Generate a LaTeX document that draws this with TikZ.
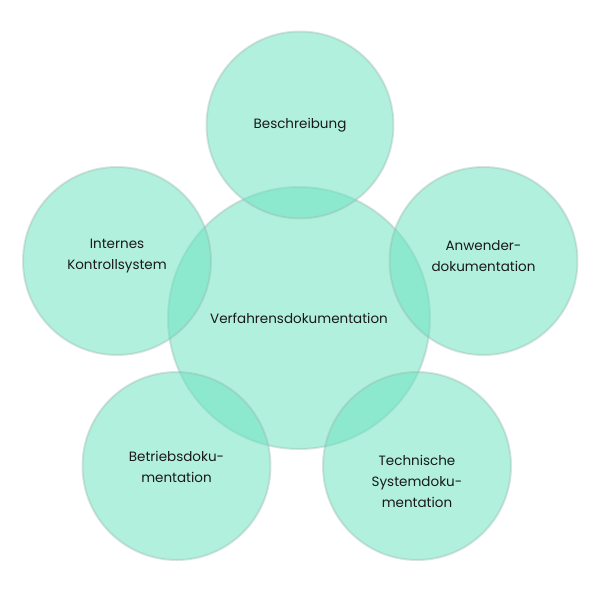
\documentclass[tikz,border=0pt]{standalone}
\usepackage{fontspec}
\setmainfont{Poppins}
\definecolor{mint}{RGB}{103,227,191}
\definecolor{rim}{RGB}{150,180,170}
\begin{document}
\begin{tikzpicture}[x=1pt,y=-1pt,
  bubble/.style={circle, fill=mint, fill opacity=0.5, draw=rim, draw opacity=0.35, line width=2pt, inner sep=0pt},
  lbl/.style={font=\fontsize{13.5}{21}\selectfont, text=black!90, align=center}]
\useasboundingbox[fill=white] (0,0) rectangle (600,600);
\node[bubble, minimum size=262pt] (c) at (299,318) {};
\node[bubble, minimum size=187pt] (t) at (300,125) {};
\node[bubble, minimum size=188pt] (l) at (117,261) {};
\node[bubble, minimum size=188pt] (r) at (483.5,261) {};
\node[bubble, minimum size=188pt] (bl) at (176.5,466) {};
\node[bubble, minimum size=188pt] (br) at (417,466) {};
\node[lbl] (tc) at (c.center) {Verfahrensdokumentation};
\node[lbl] (tt) at (t.center) {Beschreibung};
\node[lbl] (tl) at ([yshift=5]l.center) {Internes\\Kontrollsystem};
\node[lbl] (tr) at ([yshift=5]r.center) {Anwender-\\dokumentation};
\node[lbl] (tbl) at ([yshift=-1]bl.center) {Betriebsdoku-\\mentation};
\node[lbl] (tbr) at ([yshift=-15]br.center) {Technische\\Systemdoku-\\mentation};
\end{tikzpicture}
\end{document}
